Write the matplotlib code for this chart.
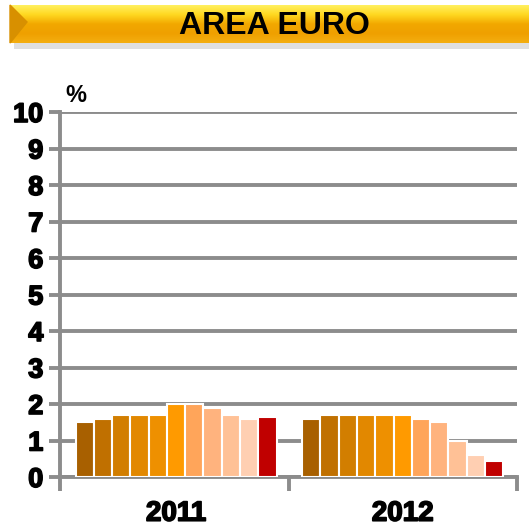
import numpy as np
import matplotlib
matplotlib.use("Agg")
import matplotlib.pyplot as plt
import matplotlib.patheffects as pe
from matplotlib.colors import LinearSegmentedColormap
from matplotlib.patches import Polygon

plt.rcParams['font.family'] = ['Liberation Sans', 'DejaVu Sans']

# data
years = ["2011", "2012"]
vals_2011 = [1.5, 1.6, 1.7, 1.7, 1.7, 2.0, 2.0, 1.9, 1.7, 1.6, 1.65]
vals_2012 = [1.6, 1.7, 1.7, 1.7, 1.7, 1.7, 1.6, 1.5, 1.0, 0.6, 0.45]
bar_colors = ["#A86000", "#C07000", "#D27E00", "#E28800", "#EE9000", "#FF9A00",
              "#FFA55A", "#FFB37E", "#FFC196", "#FFCFB2", "#C00000"]
title = "AREA EURO"

W, H = 529, 531
fig = plt.figure(figsize=(W / 100, H / 100), dpi=100)
heavy = [pe.withStroke(linewidth=1.2, foreground="black")]

# title banner
bx = fig.add_axes([0, 0, 1, 1], zorder=0)
bx.set_xlim(0, W)
bx.set_ylim(H, 0)
bx.axis("off")
# shadow
bx.fill_between([14, W], 41, 49, color="#d8d8d8", lw=0, alpha=0.8)
grad = LinearSegmentedColormap.from_list(
    "band", ["#FFF060", "#FFD820", "#F2A800", "#EFA000", "#F4AE10"])
g = np.linspace(0, 1, 100).reshape(-1, 1)
bx.imshow(g, cmap=grad, extent=[10, W, 43, 5], aspect="auto", zorder=1)
bx.add_patch(Polygon([[10, 5], [27, 22], [10, 43]], closed=True,
                     color="#D89000", zorder=2))
bx.text(274, 26, title, fontsize=23, fontweight="bold", ha="center",
        va="center", color="black", zorder=3)

# main chart
ax = fig.add_axes([60 / W, 54 / H, 457 / W, 365 / H], zorder=1)
ax.patch.set_alpha(0)
pitch = 0.08
offsets = (np.arange(11) - 5) * pitch
centers = [0.508, 1.50]
for c, vals in zip(centers, [vals_2011, vals_2012]):
    ax.bar(c + offsets, vals, width=pitch, color=bar_colors,
           edgecolor="white", linewidth=1.5, zorder=3)

ax.set_xlim(0, 2)
ax.set_ylim(0, 10)
ax.set_yticks(range(0, 11))
ax.set_yticklabels([str(i) for i in range(0, 11)], fontsize=19.5,
                   fontweight="bold")
for t in ax.get_yticklabels():
    t.set_path_effects(heavy)
ax.yaxis.grid(True, color="#8c8c8c", lw=2.8, zorder=0)
ax.set_axisbelow(True)
ax.tick_params(axis="y", length=8, width=2.8, color="#8c8c8c", pad=4)

ax.set_xticks([0, 1, 2])
ax.set_xticklabels([])
ax.tick_params(axis="x", length=10, width=2.8, color="#8c8c8c")
for c, y in zip(centers, years):
    ax.text(c, -0.65, y, fontsize=20, fontweight="bold", ha="center",
            va="top", transform=ax.transData, path_effects=heavy)

for s in ["top", "right"]:
    ax.spines[s].set_visible(False)
for s in ["left", "bottom"]:
    ax.spines[s].set_color("#8c8c8c")
    ax.spines[s].set_linewidth(2.8)

fig.text(76 / W, 1 - 95 / H, "%", fontsize=17, fontweight="bold",
         ha="center", va="center")

fig.savefig("out.png", dpi=100)
